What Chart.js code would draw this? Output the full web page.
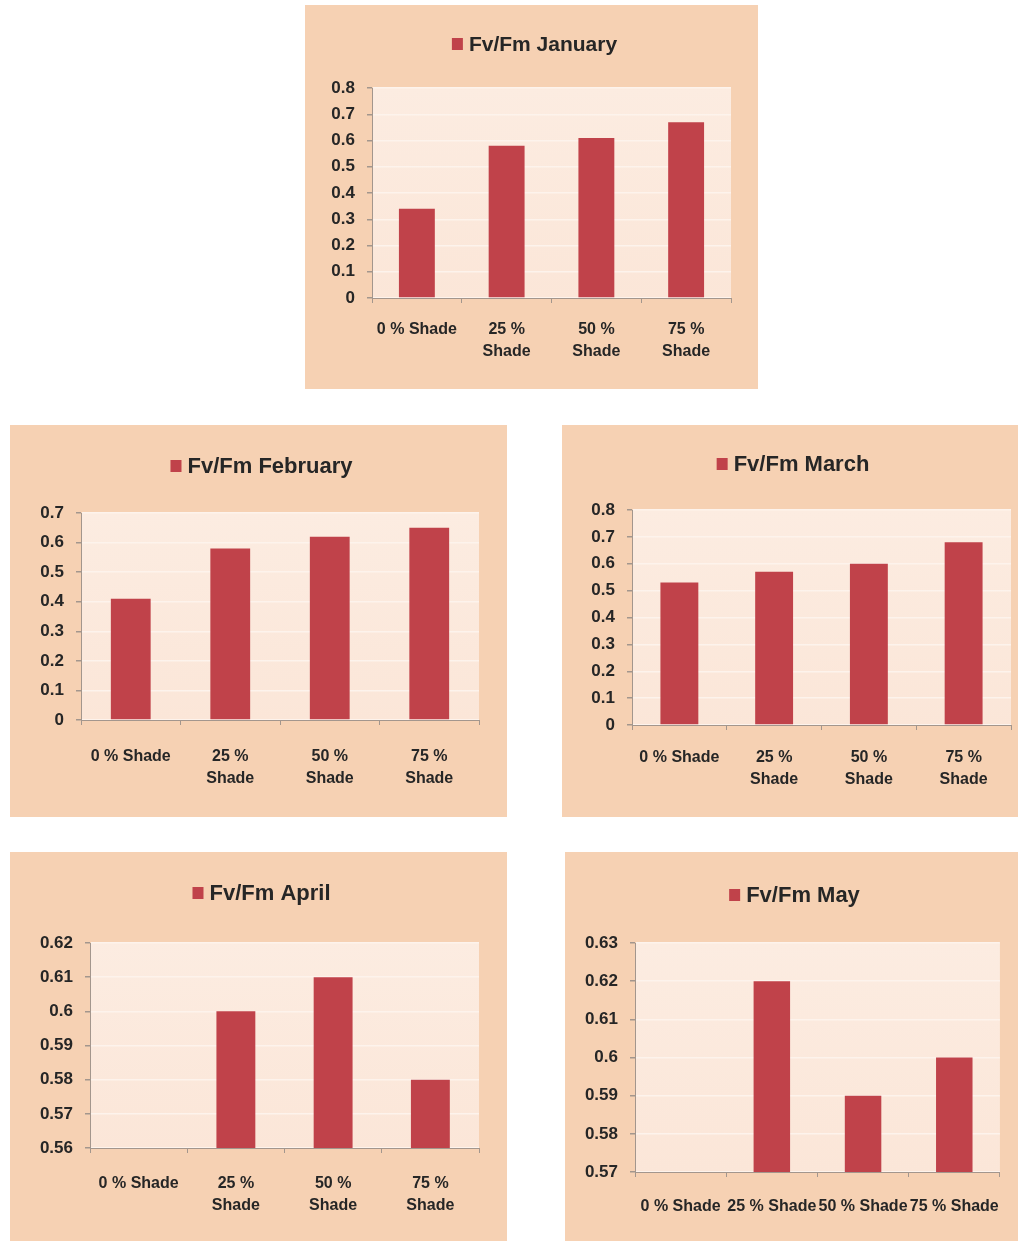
<!DOCTYPE html>
<html>
<head>
<meta charset="utf-8">
<title>Fv/Fm por mês e nível de sombreamento</title>
<script src="https://cdn.jsdelivr.net/npm/chart.js@4.4.1/dist/chart.umd.min.js"></script>
<style>
  html, body { margin: 0; padding: 0; background: #ffffff; }
  body { width: 1018px; height: 1243px; position: relative; overflow: hidden; }
  .panel { position: absolute; background: #f6d1b3; }
  .panel canvas { display: block; }
</style>
</head>
<body>

<div class="panel" style="left:305px; top:5px; width:453px; height:384px;"><canvas id="chartJan"></canvas></div>
<div class="panel" style="left:10px; top:425px; width:497px; height:392px;"><canvas id="chartFeb"></canvas></div>
<div class="panel" style="left:562px; top:425px; width:456px; height:392px;"><canvas id="chartMar"></canvas></div>
<div class="panel" style="left:10px; top:852px; width:497px; height:389px;"><canvas id="chartApr"></canvas></div>
<div class="panel" style="left:565px; top:852px; width:453px; height:389px;"><canvas id="chartMay"></canvas></div>

<script>
// Categorias (níveis de sombreamento)
const shadeLabels = ['0 % Shade', '25 % Shade', '50 % Shade', '75 % Shade'];
// Mesmas categorias quebradas em duas linhas para os painéis mais estreitos
const shadeLabelsWrapped = ['0 % Shade', ['25 %', 'Shade'], ['50 %', 'Shade'], ['75 %', 'Shade']];

// Valores de Fv/Fm por mês
const fvfmJanuary  = [0.34, 0.58, 0.61, 0.67];
const fvfmFebruary = [0.41, 0.58, 0.62, 0.65];
const fvfmMarch    = [0.53, 0.57, 0.60, 0.68];
const fvfmApril    = [0.56, 0.60, 0.61, 0.58];
const fvfmMay      = [0.57, 0.62, 0.59, 0.60];

// Limites do eixo Y de cada mês: [min, max, passo]
const yRangeJanuary  = [0, 0.8, 0.1];
const yRangeFebruary = [0, 0.7, 0.1];
const yRangeMarch    = [0, 0.8, 0.1];
const yRangeApril    = [0.56, 0.62, 0.01];
const yRangeMay      = [0.57, 0.63, 0.01];

const BAR_COLOR  = '#c0424a';
const TEXT_COLOR = '#262626';
const AXIS_COLOR = '#a3968d';
const GRID_COLOR = '#fdf3ec';
const FONT = '"Liberation Sans", Arial, Helvetica, sans-serif';

Chart.defaults.font.family = FONT;
Chart.defaults.color = TEXT_COLOR;

// Fundo da área de plotagem (degradê claro estilo Excel)
const plotBackground = {
    id: 'plotBackground',
    beforeDraw(chart) {
        const { ctx, chartArea: a } = chart;
        const g = ctx.createLinearGradient(0, a.bottom, 0, a.top);
        g.addColorStop(0, '#fbe6d8');
        g.addColorStop(1, '#fcece1');
        ctx.save();
        ctx.fillStyle = g;
        ctx.fillRect(a.left, a.top, a.right - a.left, a.bottom - a.top);
        ctx.restore();
    }
};

// Legenda da série centralizada no topo (quadradinho + nome)
const seriesKey = {
    id: 'seriesKey',
    afterDraw(chart, args, o) {
        const ctx = chart.ctx;
        const ds = chart.data.datasets[0];
        ctx.save();
        ctx.font = `bold ${o.size}px ${FONT}`;
        const tw = ctx.measureText(ds.label).width;
        const boxW = 11, boxH = 12, gap = 6;
        const x = chart.width / 2 - (boxW + gap + tw) / 2 + (o.shift || 0);
        ctx.fillStyle = ds.backgroundColor;
        ctx.fillRect(x, o.y - boxH / 2, boxW, boxH);
        ctx.fillStyle = TEXT_COLOR;
        ctx.textBaseline = 'middle';
        ctx.textAlign = 'left';
        ctx.fillText(ds.label, x + boxW + gap, o.y + 1);
        ctx.restore();
    }
};

/**
 * Cria um gráfico de barras de Fv/Fm
 * @param {String} canvasId - id do canvas
 * @param {String} label - nome da série
 * @param {Array} labels - categorias
 * @param {Array} values - valores
 * @param {Array} yRange - [min, max, passo]
 * @param {Object} box - posição da área de plotagem e da legenda dentro do painel
 */
function createChart(canvasId, label, labels, values, yRange, box) {
    const canvas = document.getElementById(canvasId);
    const W = canvas.parentElement.clientWidth;
    const H = canvas.parentElement.clientHeight;

    return new Chart(canvas.getContext('2d'), {
        type: 'bar',
        data: {
            labels: labels,
            datasets: [{
                label: label,
                data: values,
                backgroundColor: BAR_COLOR,
                borderWidth: 0,
                barPercentage: 0.4,
                categoryPercentage: 1.0
            }]
        },
        options: {
            responsive: true,
            maintainAspectRatio: false,
            animation: false,
            layout: { padding: { top: box.top, right: W - box.right, left: 0, bottom: 0 } },
            plugins: {
                legend: { display: false },
                tooltip: { enabled: false },
                seriesKey: { y: box.keyY, size: box.keySize, shift: box.keyShift }
            },
            scales: {
                x: {
                    ticks: {
                        color: TEXT_COLOR,
                        font: { size: 16, weight: 'bold', lineHeight: 1.4 },
                        padding: box.labelPad,
                        maxRotation: 0,
                        autoSkip: false
                    },
                    grid: { display: true, drawOnChartArea: false, offset: true, color: AXIS_COLOR, tickLength: 5 },
                    border: { color: AXIS_COLOR, width: 1 },
                    afterFit: s => { s.height = H - box.bottom; }
                },
                y: {
                    min: yRange[0],
                    max: yRange[1],
                    ticks: {
                        stepSize: yRange[2],
                        color: TEXT_COLOR,
                        font: { size: 17, weight: 'bold' },
                        padding: 12,
                        callback: v => String(+v.toFixed(2))
                    },
                    grid: { color: GRID_COLOR, lineWidth: 1.5, tickColor: AXIS_COLOR, tickLength: 5 },
                    border: { color: AXIS_COLOR, width: 1 },
                    afterFit: s => { s.width = box.left; }
                }
            }
        },
        plugins: [plotBackground, seriesKey]
    });
}

createChart('chartJan', 'Fv/Fm January', shadeLabelsWrapped, fvfmJanuary, yRangeJanuary,
    { left: 67, right: 426, top: 83, bottom: 293, labelPad: 15, keyY: 39, keySize: 21, keyShift: 3 });
createChart('chartFeb', 'Fv/Fm February', shadeLabelsWrapped, fvfmFebruary, yRangeFebruary,
    { left: 71, right: 469, top: 88, bottom: 295, labelPad: 20, keyY: 41, keySize: 22, keyShift: 3 });
createChart('chartMar', 'Fv/Fm March', shadeLabelsWrapped, fvfmMarch, yRangeMarch,
    { left: 70, right: 449, top: 85, bottom: 300, labelPad: 16, keyY: 39, keySize: 22, keyShift: 3 });
createChart('chartApr', 'Fv/Fm April', shadeLabelsWrapped, fvfmApril, yRangeApril,
    { left: 80, right: 469, top: 91, bottom: 296, labelPad: 19, keyY: 41, keySize: 22, keyShift: 3 });
createChart('chartMay', 'Fv/Fm May', shadeLabels, fvfmMay, yRangeMay,
    { left: 70, right: 443, top: 91, bottom: 320, labelPad: 18, keyY: 43, keySize: 22, keyShift: 3 });
</script>
</body>
</html>
